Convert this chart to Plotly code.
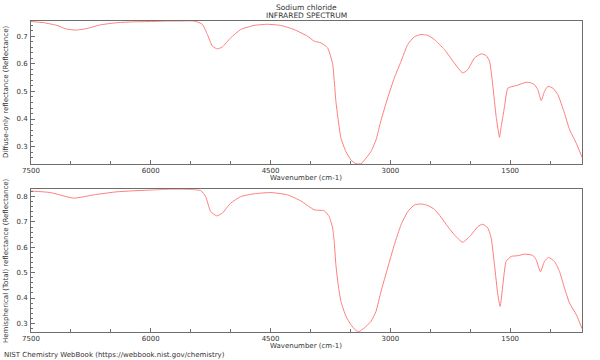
import plotly.graph_objects as go
from plotly.subplots import make_subplots

# Wavenumbers (cm-1) and reflectance values
wn_top = [7500, 7342, 7174, 7070, 6944, 6797, 6630, 6421, 6213, 6004, 5794, 5626,
          5459, 5354, 5291, 5229, 5166, 5104, 5000, 4875, 4707, 4540, 4372, 4205,
          4037, 3954, 3870, 3786, 3723, 3703, 3682, 3661, 3619, 3556, 3494, 3431,
          3368, 3306, 3243, 3180, 3117, 3034, 2950, 2866, 2782, 2699, 2616, 2532,
          2449, 2324, 2199, 2094, 2030, 1947, 1862, 1800, 1758, 1716, 1675, 1633,
          1612, 1591, 1570, 1528, 1424, 1299, 1240, 1194, 1153, 1111, 1070, 1027,
          965, 902, 819, 755, 671, 600]
r_diffuse = [0.753, 0.749, 0.739, 0.727, 0.722, 0.728, 0.741, 0.749, 0.752, 0.753, 0.755, 0.755,
             0.755, 0.743, 0.706, 0.664, 0.654, 0.661, 0.694, 0.724, 0.739, 0.743, 0.739, 0.724,
             0.700, 0.682, 0.676, 0.658, 0.600, 0.540, 0.464, 0.415, 0.331, 0.282, 0.252, 0.238,
             0.238, 0.258, 0.282, 0.324, 0.395, 0.476, 0.549, 0.609, 0.670, 0.698, 0.706, 0.703,
             0.688, 0.652, 0.603, 0.567, 0.579, 0.621, 0.636, 0.630, 0.609, 0.518, 0.409, 0.334,
             0.373, 0.409, 0.445, 0.512, 0.521, 0.533, 0.531, 0.524, 0.506, 0.467, 0.500, 0.518,
             0.512, 0.488, 0.421, 0.361, 0.312, 0.262]

wn_bot = [7500, 7258, 6965, 6714, 6421, 6004, 5711, 5376, 5313, 5250, 5175, 5104,
          5000, 4874, 4707, 4497, 4288, 4121, 3954, 3828, 3766, 3723, 3703, 3682,
          3653, 3619, 3556, 3494, 3431, 3390, 3327, 3243, 3180, 3117, 3034, 2950,
          2866, 2782, 2699, 2616, 2532, 2449, 2365, 2282, 2199, 2094, 1988, 1904,
          1842, 1779, 1737, 1696, 1654, 1625, 1591, 1550, 1487, 1403, 1320, 1215,
          1174, 1120, 1070, 1020, 944, 882, 819, 756, 671, 600]
r_total = [0.822, 0.816, 0.794, 0.807, 0.819, 0.826, 0.829, 0.824, 0.800, 0.741, 0.724, 0.735,
           0.774, 0.800, 0.811, 0.816, 0.807, 0.783, 0.748, 0.744, 0.721, 0.676, 0.623, 0.531,
           0.452, 0.387, 0.328, 0.295, 0.272, 0.268, 0.282, 0.308, 0.347, 0.426, 0.518, 0.610,
           0.689, 0.741, 0.767, 0.771, 0.765, 0.750, 0.719, 0.682, 0.650, 0.620, 0.649, 0.682,
           0.691, 0.676, 0.636, 0.531, 0.413, 0.367, 0.452, 0.544, 0.564, 0.567, 0.573, 0.568,
           0.551, 0.504, 0.544, 0.560, 0.544, 0.505, 0.439, 0.380, 0.334, 0.280]

y_ticks_top = [0.3, 0.4, 0.5, 0.6, 0.7]
y_ticks_bot = [0.3, 0.4, 0.5, 0.6, 0.7, 0.8]
x_ticks = [7500, 6000, 4500, 3000, 1500]

LINE = "rgb(255,125,125)"
AX = "rgb(110,110,110)"
TXT = "#333333"
FONT = "DejaVu Sans"

fig = make_subplots(rows=2, cols=1)
fig.add_trace(go.Scatter(x=wn_top, y=r_diffuse, mode="lines",
                         line=dict(color=LINE, width=1, shape="spline", smoothing=0.5)),
              row=1, col=1)
fig.add_trace(go.Scatter(x=wn_bot, y=r_total, mode="lines",
                         line=dict(color=LINE, width=1, shape="spline", smoothing=0.5)),
              row=2, col=1)

xcommon = dict(range=[7500, 600], tickvals=x_ticks, ticks="inside", ticklen=4,
               tickcolor=AX, linecolor=AX, linewidth=1, mirror=True, showline=True,
               showgrid=False, zeroline=False, automargin=False,
               minor=dict(dtick=500, tick0=0, ticks="inside", ticklen=3, tickcolor=AX),
               tickfont=dict(size=7, color=TXT, family=FONT), ticklabelstandoff=0)
ycommon = dict(ticks="inside", ticklen=4, tickcolor=AX, linecolor=AX, linewidth=1,
               mirror=True, showline=True, showgrid=False, zeroline=False, automargin=False,
               minor=dict(dtick=0.02, tick0=0, ticks="inside", ticklen=2, tickcolor=AX),
               tickfont=dict(size=7, color=TXT, family=FONT), ticklabelstandoff=1)

fig.update_xaxes(**xcommon, domain=[0, 1])
fig.update_yaxes(**ycommon)
fig.update_yaxes(range=[0.237, 0.755], tickvals=y_ticks_top, domain=[0.540, 1], row=1, col=1)
fig.update_yaxes(range=[0.266, 0.829], tickvals=y_ticks_bot, domain=[0, 0.459], row=2, col=1)

H_PLOT = 360 - 21 - 28
W_PLOT = 600 - 31 - 18


def py(p):
    return (332 - p) / H_PLOT


def px(p):
    return (p - 31) / W_PLOT


annos = [
    ("Sodium chloride", 306, 7, 7.5, 0),
    ("INFRARED SPECTRUM", 306, 15.5, 7.5, 0),
    ("Wavenumber (cm-1)", 306, 178, 7, 0),
    ("Wavenumber (cm-1)", 306, 346, 7, 0),
    ("Diffuse-only reflectance (Reflectance)", 6, 92, 7, -90),
    ("Hemispherical (Total) reflectance (Reflectance)", 6, 261, 7, -90),
]
for text, x, y, size, ang in annos:
    fig.add_annotation(text=text, xref="paper", yref="paper", x=px(x), y=py(y),
                       xanchor="center", yanchor="middle", showarrow=False, textangle=ang,
                       font=dict(size=size, color=TXT, family=FONT))
fig.add_annotation(text="NIST Chemistry WebBook (https://webbook.nist.gov/chemistry)",
                   xref="paper", yref="paper", x=px(2), y=py(355),
                   xanchor="left", yanchor="middle", showarrow=False,
                   font=dict(size=7, color=TXT, family=FONT))

fig.update_layout(width=600, height=360, margin=dict(l=31, r=18, t=21, b=28),
                  plot_bgcolor="white", paper_bgcolor="white", showlegend=False)
fig.write_html("out.html", config={"displayModeBar": False},
               post_script="document.body.style.margin='0';document.body.style.padding='0';")
